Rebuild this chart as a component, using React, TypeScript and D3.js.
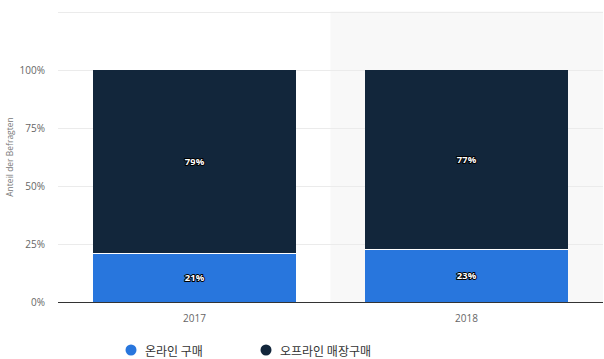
import React from "react";
import * as d3 from "d3";

const categories = ["2017", "2018"];
const onlineValues = [21, 23];
const offlineValues = [79, 77];
const seriesNames = ["온라인 구매", "오프라인 매장구매"];
const yTicks = [0, 25, 50, 75, 100];
const gridTicks = [0, 25, 50, 75, 100, 125];

const W = 604;
const H = 359;
const BLUE = "#2876dd";
const NAVY = "#12263b";

export default function App() {
  const x = d3.scaleBand<string>().domain(categories).range([58, 603]).padding(0);
  const y = d3.scaleLinear().domain([0, 125]).range([302, 11.5]);
  const barW = x.bandwidth() * 0.745;
  const font = "'Open Sans', 'Noto Sans', sans-serif";
  const koFont = "'Noto Sans CJK KR', 'Noto Sans', sans-serif";
  const ry = (v: number) => Math.round(y(v));

  const label = (val: number, cx: number, cy: number, key: string) => (
    <text
      key={key}
      x={cx}
      y={cy}
      textAnchor="middle"
      dominantBaseline="central"
      fontFamily={font}
      fontSize={9.5}
      fontWeight="bold"
      fill="#fff"
      stroke="#000"
      strokeWidth={2}
      strokeLinejoin="round"
      paintOrder="stroke"
    >
      {val}%
    </text>
  );

  return (
    <svg width={W} height={H} style={{ position: "absolute", left: 0, top: 0, background: "#fff" }}>
      <rect x={x("2018")!} y={y(125)} width={x.bandwidth()} height={y(0) - y(125)} fill="#f8f8f8" />
      {gridTicks.map((t) => (
        <line key={t} x1={58} x2={603} y1={ry(t) + 0.5} y2={ry(t) + 0.5} stroke="#ebebeb" strokeWidth={1} />
      ))}
      {yTicks.map((t) => (
        <text key={t} x={45} y={y(t)} textAnchor="end" dominantBaseline="central" fontFamily={font} fontSize={10} fill="#666">
          {t}%
        </text>
      ))}
      <text
        transform={`translate(9, ${157}) rotate(-90)`}
        textAnchor="middle"
        dominantBaseline="central"
        fontFamily={font}
        fontSize={8.5}
        fill="#777"
      >
        Anteil der Befragten
      </text>
      {categories.map((c, i) => {
        const bx = Math.round(x(c)! + (x.bandwidth() - barW) / 2);
        const bw = Math.round(barW);
        const cx = bx + bw / 2;
        const on = onlineValues[i];
        const off = offlineValues[i];
        return (
          <g key={c}>
            <rect x={bx} y={ry(on)} width={bw} height={ry(0) - ry(on)} fill={BLUE} />
            <rect x={bx} y={ry(on + off)} width={bw} height={ry(on) - ry(on + off)} fill={NAVY} />
            <line x1={bx} x2={bx + bw} y1={ry(on) + 0.5} y2={ry(on) + 0.5} stroke="#fff" strokeWidth={1} />
            {label(off, cx, y(on + off / 2), "off")}
            {label(on, cx, y(on / 2), "on")}
            <text x={cx} y={318} textAnchor="middle" dominantBaseline="central" fontFamily={font} fontSize={10} fill="#666">
              {c}
            </text>
          </g>
        );
      })}
      <line x1={58} x2={603} y1={302.5} y2={302.5} stroke="#333" strokeWidth={1} />
      <circle cx={131} cy={350} r={5.5} fill={BLUE} />
      <text x={145} y={350} dominantBaseline="central" fontFamily={koFont} fontSize={12} fill="#333">
        {seriesNames[0]}
      </text>
      <circle cx={266} cy={350} r={5.5} fill={NAVY} />
      <text x={280} y={350} dominantBaseline="central" fontFamily={koFont} fontSize={12} fill="#333">
        {seriesNames[1]}
      </text>
    </svg>
  );
}
